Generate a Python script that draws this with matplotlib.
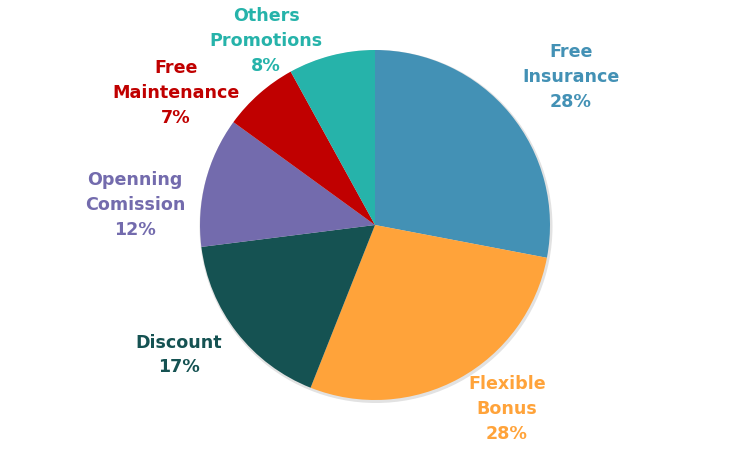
import matplotlib
matplotlib.use("Agg")
import matplotlib.pyplot as plt
from matplotlib.patches import Circle

categories = ["Free\nInsurance", "Flexible\nBonus", "Discount", "Openning\nComission",
              "Free\nMaintenance", "Others\nPromotions"]
values = [28, 28, 17, 12, 7, 8]
colors = ["#4391B5", "#FFA33A", "#155252", "#736BAD", "#C00000", "#26B3AA"]
# label centres in pixel coordinates (x, y from top)
label_pos = [(571, 77), (507, 409), (179, 355), (135, 205), (176, 93), (266, 41)]

W, H = 750, 450
fig = plt.figure(figsize=(7.5, 4.5), dpi=100)
ax = fig.add_axes([0, 0, 1, 1])

cx, cy, R = 375, H - 225, 175
ax.add_patch(Circle((cx + 1, cy - 1.5), R + 1.5, color="#E2E2E2", zorder=0, lw=0))
ax.pie(values, colors=colors, startangle=90, counterclock=False,
       center=(cx, cy), radius=R, frame=True,
       wedgeprops=dict(linewidth=0), normalize=True)
ax.set_xlim(0, W)
ax.set_ylim(0, H)
ax.set_aspect("equal")
ax.axis("off")

for lab, v, col, (x, y) in zip(categories, values, colors, label_pos):
    ax.text(x, H - y, f"{lab}\n{v}%", color=col, ha="center", va="center",
            fontsize=12.6, fontweight="bold", family="DejaVu Sans", linespacing=1.5)

fig.savefig("out.png", dpi=100, facecolor="white")
